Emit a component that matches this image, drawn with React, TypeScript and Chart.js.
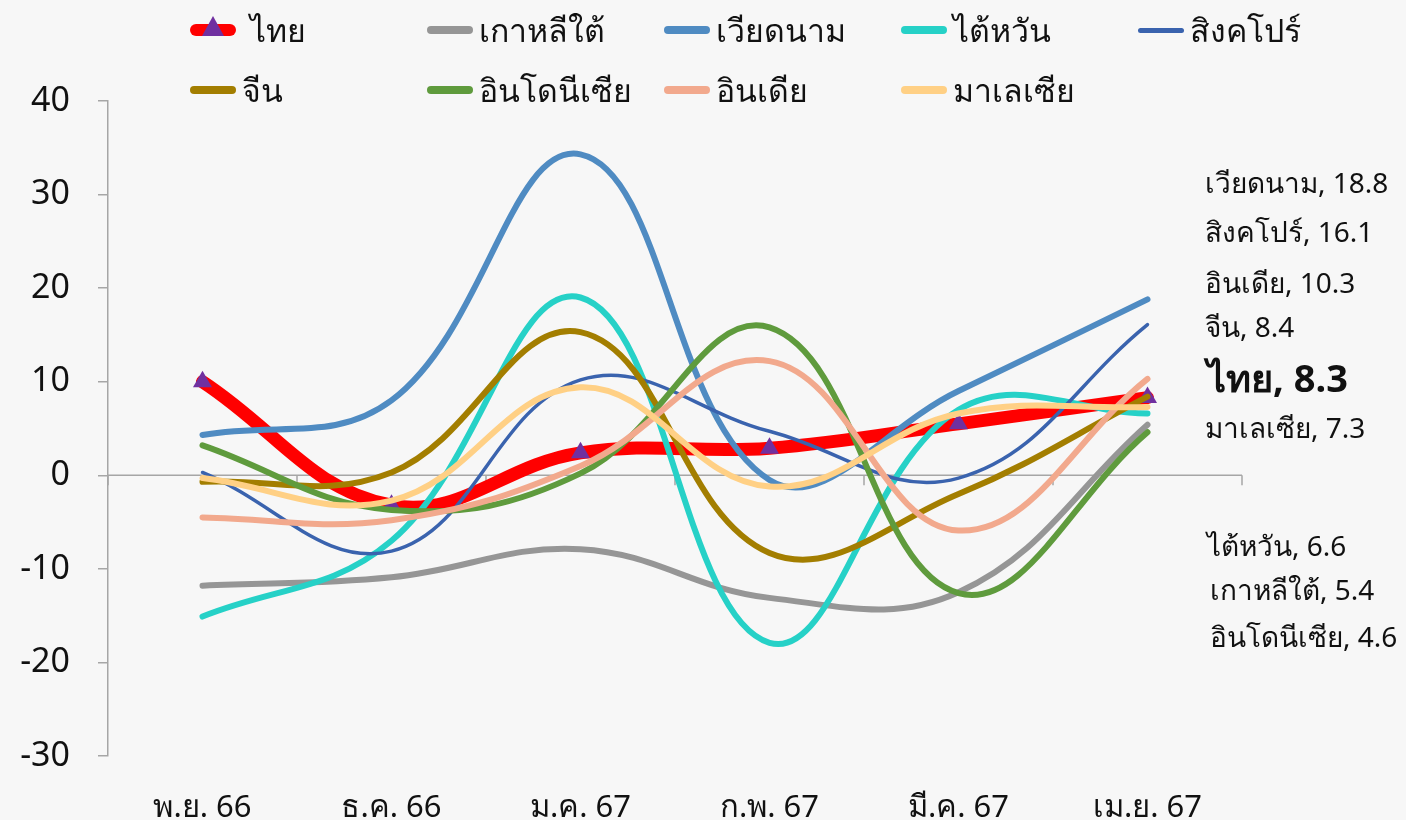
import React, { useEffect, useRef } from "react";
import { Chart, registerables } from "chart.js";

Chart.register(...registerables);

const categories = ["พ.ย. 66", "ธ.ค. 66", "ม.ค. 67", "ก.พ. 67", "มี.ค. 67", "เม.ย. 67"];

const seriesNames = ["ไทย", "เกาหลีใต้", "เวียดนาม", "ไต้หวัน", "สิงคโปร์", "จีน", "อินโดนีเซีย", "อินเดีย", "มาเลเซีย"];

const thai = [10.0, -3.2, 2.4, 2.9, 5.5, 8.3];
const korea = [-11.8, -10.9, -7.9, -13.1, -12.5, 5.4];
const vietnam = [4.3, 8.0, 34.3, -0.5, 9.0, 18.8];
const taiwan = [-15.1, -7.0, 19.0, -17.9, 7.0, 6.6];
const singapore = [0.3, -8.1, 10.2, 4.7, -0.3, 16.1];
const china = [-0.7, 0.3, 15.3, -8.3, -2.0, 8.4];
const indonesia = [3.2, -3.7, 0.2, 15.8, -12.6, 4.6];
const india = [-4.5, -4.8, 1.0, 12.2, -5.9, 10.3];
const malaysia = [-0.3, -2.7, 9.4, -1.2, 6.6, 7.3];

const seriesValues = [thai, korea, vietnam, taiwan, singapore, china, indonesia, india, malaysia];
const seriesColors = ["#FF0000", "#969696", "#4F8BC2", "#26D1C7", "#3A63AE", "#A37E00", "#5F9B3D", "#F2A98D", "#FFD085"];
const seriesWidths = [13, 6, 6, 6, 3.5, 6, 6, 6, 6];

const yMin = -30;
const yMax = 40;
const yStep = 10;

// order of the end-of-line value labels (top to bottom)
const endLabelOrder = ["เวียดนาม", "สิงคโปร์", "อินเดีย", "จีน", "ไทย", "มาเลเซีย", "ไต้หวัน", "เกาหลีใต้", "อินโดนีเซีย"];
const endLabelTops = [183, 232, 283, 327, 378, 428, 546, 590, 637];
const endLabelLefts = [1205, 1205, 1205, 1205, 1207, 1205, 1207, 1210, 1210];

const FONT = "'Noto Sans', 'DejaVu Sans', sans-serif";

export default function App() {
  const ref = useRef<HTMLCanvasElement>(null);

  useEffect(() => {
    if (!ref.current) return;
    const zeroLine = {
      id: "zeroLine",
      beforeDatasetsDraw(chart: any) {
        const { ctx, scales } = chart;
        const x = scales.x;
        const y = scales.y;
        const y0 = y.getPixelForValue(0);
        ctx.save();
        ctx.strokeStyle = "#a6a6a6";
        ctx.lineWidth = 1.5;
        ctx.beginPath();
        ctx.moveTo(x.left, y0);
        ctx.lineTo(x.right, y0);
        const n = categories.length;
        for (let i = 0; i <= n; i++) {
          const px = x.left + ((x.right - x.left) * i) / n;
          ctx.moveTo(px, y0);
          ctx.lineTo(px, y0 + 10);
        }
        ctx.stroke();
        ctx.restore();
      },
    };

    const datasets = seriesNames.map((name, i) => ({
      label: name,
      data: seriesValues[i],
      borderColor: seriesColors[i],
      backgroundColor: seriesColors[i],
      borderWidth: seriesWidths[i],
      borderCapStyle: "round" as const,
      borderJoinStyle: "round" as const,
      tension: 0.4,
      fill: false,
      order: seriesNames.length - i,
      pointRadius: i === 0 ? 11 : 0,
      pointStyle: "triangle" as const,
      pointBackgroundColor: "#7030A0",
      pointBorderColor: "#7030A0",
      pointBorderWidth: 0,
      pointHoverRadius: 0,
    }));

    const chart = new Chart(ref.current, {
      type: "line",
      data: { labels: categories, datasets },
      options: {
        animation: false,
        responsive: true,
        maintainAspectRatio: false,
        layout: { padding: { left: 0, right: 164, top: 101, bottom: 0 } },
        plugins: { legend: { display: false }, tooltip: { enabled: false } },
        scales: {
          x: {
            offset: true,
            grid: { display: false },
            border: { display: false },
            ticks: { font: { size: 31, family: FONT }, color: "#111", padding: 26, maxRotation: 0 },
            afterFit(s: any) {
              s.height = 64;
            },
          },
          y: {
            min: yMin,
            max: yMax,
            ticks: { stepSize: yStep, font: { size: 34, family: FONT }, color: "#111", padding: 28 },
            grid: { drawOnChartArea: false, drawTicks: true, tickLength: 10, color: "#a6a6a6", lineWidth: 1.5 },
            border: { display: true, color: "#a6a6a6", width: 1.5 },
            afterFit(s: any) {
              s.width = 108;
            },
          },
        },
      },
      plugins: [zeroLine],
    });
    return () => chart.destroy();
  }, []);

  const lastValue = (name: string) => {
    const idx = seriesNames.indexOf(name);
    const arr = seriesValues[idx];
    return arr[arr.length - 1].toFixed(1);
  };

  return (
    <div style={{ position: "absolute", left: 0, top: 0, width: 1406, height: 820, background: "#F7F7F7", fontFamily: FONT, overflow: "hidden" }}>
      <canvas ref={ref} />
      <div style={{ position: "absolute", left: 190, top: 0, display: "grid", gridTemplateColumns: "repeat(5, 237px)", gridAutoRows: "60px" }}>
        {seriesNames.map((name, i) => (
          <div key={name} style={{ display: "flex", alignItems: "center", height: 60, fontSize: 32, color: "#111", whiteSpace: "nowrap" }}>
            <span style={{ position: "relative", display: "inline-block", width: 46, height: i === 0 ? 12 : i === 4 ? 5 : 8, borderRadius: 6, background: seriesColors[i], marginRight: i === 0 ? 14 : 6 }}>
              {i === 0 ? (
                <span style={{ position: "absolute", left: 12, top: -8, width: 0, height: 0, borderLeft: "11px solid transparent", borderRight: "11px solid transparent", borderBottom: "20px solid #7030A0" }} />
              ) : null}
            </span>
            <span>{name}</span>
          </div>
        ))}
      </div>
      {endLabelOrder.map((name, k) => {
        const bold = name === "ไทย";
        return (
          <div key={name} style={{ position: "absolute", left: endLabelLefts[k], top: endLabelTops[k], transform: "translateY(-50%)", fontSize: bold ? 38 : 28, fontWeight: bold ? 700 : 400, color: "#111", whiteSpace: "nowrap", lineHeight: 1.2 }}>
            {name}, {lastValue(name)}
          </div>
        );
      })}
    </div>
  );
}
